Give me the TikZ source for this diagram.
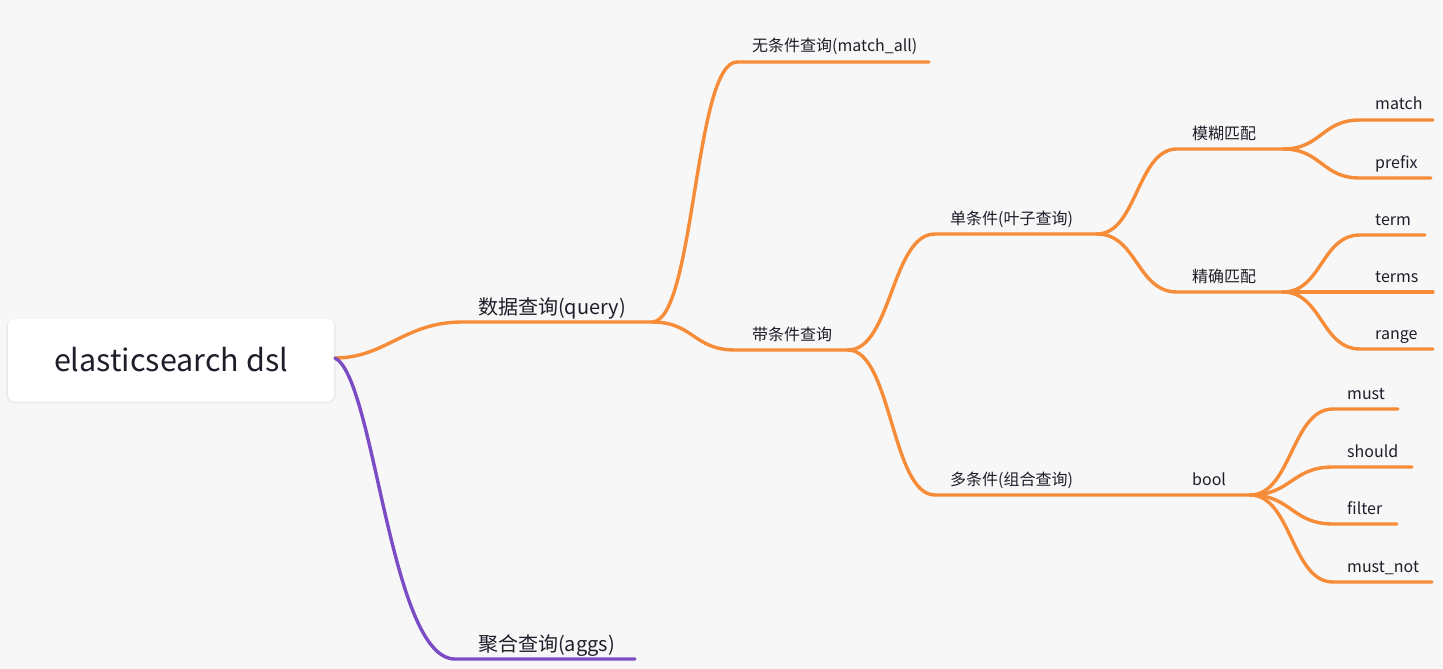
\documentclass[tikz,border=0pt]{standalone}
\usepackage{fontspec}
\setmainfont{Noto Sans CJK SC}
\usetikzlibrary{calc}
\definecolor{bgc}{HTML}{F7F7F7}
\definecolor{org}{HTML}{F68B38}
\definecolor{pur}{HTML}{7B4CC4}
\definecolor{txt}{HTML}{1E1E2A}
\tikzset{
  br/.style={draw=org, line width=3.4pt, line cap=round},
  brp/.style={draw=pur, line width=3.4pt, line cap=round},
  lblA/.style={anchor=base west, inner sep=0pt, text=txt, font=\fontsize{20}{23}\selectfont},
  lblB/.style={anchor=base west, inner sep=0pt, text=txt, font=\fontsize{16}{19}\selectfont},
}
\newcommand{\crv}[2]{let \p1=(#1), \p2=(#2), \n1={0.5*(\x2-\x1)} in (\p1) .. controls ($(\x1+\n1,\y1)$) and ($(\x2-\n1,\y2)$) .. (\p2)}
\begin{document}
\begin{tikzpicture}[x=1pt,y=-1pt]
\fill[bgc] (0,0) rectangle (1443,669);
\useasboundingbox (0,0) rectangle (1443,669);
% root shadow
\fill[black, opacity=0.025, rounded corners=9pt] (6,318) rectangle (336,404);
\fill[black, opacity=0.035, rounded corners=8pt] (7,318.5) rectangle (335,402.5);
% root
\node[fill=white, rounded corners=7pt, minimum width=326pt, minimum height=83pt, inner sep=0pt,
  text=txt, font=\fontsize{30.5}{34}\selectfont] (root) at (171,360) {\raisebox{-2.5pt}{elasticsearch dsl}};
\coordinate (r) at (335,358);
% coordinates
\coordinate (q0) at (462,322); \coordinate (q1) at (652,322);
\coordinate (w0) at (737,62);  \coordinate (w1) at (929,62);
\coordinate (d0) at (735,350); \coordinate (d1) at (848,350);
\coordinate (s0) at (935,234); \coordinate (s1) at (1097,234);
\coordinate (m0) at (1177,149); \coordinate (m1) at (1283,149);
\coordinate (j0) at (1177,292); \coordinate (j1) at (1283,292);
\coordinate (ma0) at (1360,120); \coordinate (ma1) at (1433,120);
\coordinate (pr0) at (1360,178); \coordinate (pr1) at (1431,178);
\coordinate (te0) at (1360,235); \coordinate (te1) at (1425,235);
\coordinate (ts0) at (1360,292); \coordinate (ts1) at (1433,292);
\coordinate (ra0) at (1360,349); \coordinate (ra1) at (1433,349);
\coordinate (u0) at (935,495); \coordinate (bo0) at (1177,495); \coordinate (u1) at (1250,495);
\coordinate (mu0) at (1333,409); \coordinate (mu1) at (1398,409);
\coordinate (sh0) at (1333,467); \coordinate (sh1) at (1412,467);
\coordinate (fi0) at (1333,524); \coordinate (fi1) at (1397,524);
\coordinate (mn0) at (1333,582); \coordinate (mn1) at (1432,582);
\coordinate (a0) at (455,659); \coordinate (a1) at (635,659);
% root connectors
\draw[br] (r) .. controls (385,358) and (405,322) .. (q0) -- (q1);
\draw[brp] (r) .. controls (375,378) and (390,659) .. (a0) -- (a1);
% branches
\draw[br] \crv{q1}{w0} -- (w1);
\draw[br] \crv{q1}{d0} -- (d1);
\draw[br] \crv{d1}{s0} -- (s1);
\draw[br] \crv{d1}{u0} -- (bo0) -- (u1);
\draw[br] \crv{s1}{m0} -- (m1);
\draw[br] \crv{s1}{j0} -- (j1);
\draw[br] \crv{m1}{ma0} -- (ma1);
\draw[br] \crv{m1}{pr0} -- (pr1);
\draw[br] \crv{j1}{te0} -- (te1);
\draw[br] (j1) -- (ts0) -- (ts1);
\draw[br] \crv{j1}{ra0} -- (ra1);
\draw[br] \crv{u1}{mu0} -- (mu1);
\draw[br] \crv{u1}{sh0} -- (sh1);
\draw[br] \crv{u1}{fi0} -- (fi1);
\draw[br] \crv{u1}{mn0} -- (mn1);
% labels
\node[lblA] (lq) at ($(q0)+(16,-8)$) {数据查询(query)};
\node[lblA] (la) at ($(a0)+(23,-8)$) {聚合查询(aggs)};
\node[lblB] (lw) at ($(w0)+(15,-10)$) {无条件查询(match\_all)};
\node[lblB] (ld) at ($(d0)+(17,-10)$) {带条件查询};
\node[lblB] (ls) at ($(s0)+(15,-10)$) {单条件(叶子查询)};
\node[lblB] (lu) at ($(u0)+(15,-10)$) {多条件(组合查询)};
\node[lblB] (lbo) at ($(bo0)+(15,-10)$) {bool};
\node[lblB] (lm) at ($(m0)+(15,-10)$) {模糊匹配};
\node[lblB] (lj) at ($(j0)+(15,-10)$) {精确匹配};
\node[lblB] (lma) at ($(ma0)+(15,-10)$) {match};
\node[lblB] (lpr) at ($(pr0)+(15,-10)$) {prefix};
\node[lblB] (lte) at ($(te0)+(15,-10)$) {term};
\node[lblB] (lts) at ($(ts0)+(15,-10)$) {terms};
\node[lblB] (lra) at ($(ra0)+(15,-10)$) {range};
\node[lblB] (lmu) at ($(mu0)+(14,-10)$) {must};
\node[lblB] (lsh) at ($(sh0)+(14,-10)$) {should};
\node[lblB] (lfi) at ($(fi0)+(14,-10)$) {filter};
\node[lblB] (lmn) at ($(mn0)+(14,-10)$) {must\_not};
\end{tikzpicture}
\end{document}
